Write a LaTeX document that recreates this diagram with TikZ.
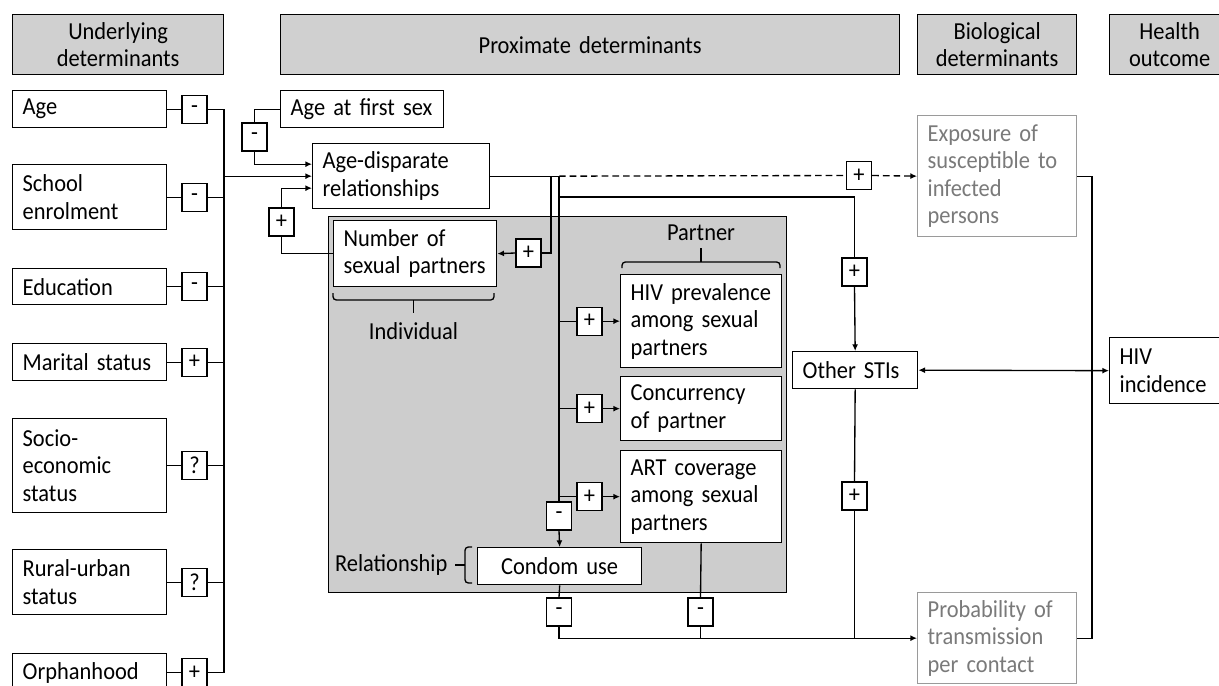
\documentclass[tikz,border=0pt]{standalone}
\usepackage{fontspec}
\setmainfont{Carlito}[FakeStretch=0.92]
\usetikzlibrary{arrows.meta}
\definecolor{hdr}{HTML}{D0D0D0}
\definecolor{reg}{HTML}{CDCDCD}
\definecolor{lgt}{HTML}{9A9A9A}
\definecolor{ltx}{HTML}{7A7A7A}
\newcommand\mkbox[7][]{%
  \pgfmathsetmacro\mbw{(#5-#3)*0.75}%
  \pgfmathsetmacro\mbh{(#6-#4)*0.75}%
  \pgfmathsetmacro\mtw{(#5-#3-20)*0.75}%
  \node[bx,minimum width=\mbw pt,minimum height=\mbh pt,text width=\mtw pt,anchor=north west,#1] (#2) at (#3,#4) {#7};%
}
\begin{document}
\begin{tikzpicture}[x=0.75pt,y=-0.75pt,
  font=\fontsize{18.3pt}{20.6pt}\selectfont, line width=1pt,
  bx/.style={draw, fill=white, inner sep=0pt, align=left},
  hd/.style={fill=hdr, align=center},
  gr/.style={draw=lgt, text=ltx},
  sg/.style={draw, fill=white, inner sep=0pt, minimum width=18.75pt, minimum height=21pt},
  arr/.style={-{Latex[length=5pt,width=4.5pt]}},
  darr/.style={{Latex[length=5pt,width=4.5pt]}-{Latex[length=5pt,width=4.5pt]}},
  dsh/.style={dash pattern=on 5pt off 3pt},
  lbl/.style={inner sep=0pt}]
\useasboundingbox (0,0) rectangle (1219,685);
\clip (0,0) rectangle (1219,685);
% headers
\mkbox[hd]{hU}{12}{14}{223}{74}{Underlying\\determinants}
\mkbox[hd]{hP}{280}{14}{899}{74}{Proximate determinants}
\mkbox[hd]{hB}{917}{14}{1076}{74}{Biological\\determinants}
\mkbox[hd]{hH}{1109}{14}{1229}{74}{Health\\outcome}
% grey region
\mkbox[fill=reg]{region}{328}{216}{786}{592}{}
% left column
\mkbox{age}{12}{90}{166}{127}{Age}
\mkbox{sch}{12}{164}{166}{229}{School\\enrolment}
\mkbox{edu}{12}{268}{166}{304}{Education}
\mkbox{mar}{12}{343}{166}{380}{Marital status}
\mkbox{soc}{12}{418}{166}{512}{Socio-\\economic\\status}
\mkbox{rur}{12}{549}{166}{614}{Rural-urban\\status}
\mkbox{orp}{12}{653}{166}{691}{Orphanhood}
% middle
\mkbox{afs}{280}{90}{443}{127}{Age at first sex}
\mkbox{ads}{312}{143}{489}{208}{Age-disparate\\relationships}
\mkbox{nsp}{333}{220}{496}{286}{Number of\\sexual partners}
\mkbox{hiv}{620}{274}{781}{367}{HIV prevalence\\among sexual\\partners}
\mkbox{con}{620}{376}{781}{440}{Concurrency\\of partner}
\mkbox{art}{620}{450}{781}{542}{ART coverage\\among sexual\\partners}
\mkbox[align=center]{cu}{477}{547}{641}{584}{Condom use}
\mkbox{sti}{792}{351}{917}{388}{Other STIs}
\mkbox[gr]{exp}{917}{115}{1076}{236}{Exposure of\\susceptible to\\infected\\persons}
\mkbox[gr]{prob}{917}{592}{1076}{683}{Probability of\\transmission\\per contact}
\mkbox{hinc}{1109}{337}{1240}{403}{HIV\\incidence}
% helper coordinates
\coordinate (sx) at (194.5,0);
\coordinate (bus) at (224,0);
\coordinate (j1) at (551,0);
\coordinate (j2) at (559,0);
\coordinate (px) at (589.5,0);
\coordinate (rb) at (1092,0);
\coordinate (j3) at (559,197);
% sign boxes
\node[sg] (sA) at (age.east -| sx) {-};
\node[sg] (sS) at (sch.east -| sx) {-};
\node[sg] (sE) at (edu.east -| sx) {-};
\node[sg] (sM) at (mar.east -| sx) {+};
\node[sg] (sSo) at (soc.east -| sx) {?};
\node[sg] (sR) at (rur.east -| sx) {?};
\node[sg] (sO) at (orp.east -| sx) {+};
\node[sg] (sAF) at (254.5,137) {-};
\node[sg] (sNP) at (281.5,222) {+};
\node[sg] (sNPR) at (528.5,253) {+};
\node[sg] (sEx) at (859,175.5) {+};
\node[sg] (sOS) at (854.5,272) {+};
\node[sg] (sH) at (hiv.west -| px) {+};
\node[sg] (sC) at (con.west -| px) {+};
\node[sg] (sRt) at (art.west -| px) {+};
\node[sg] (sCU) at (559,516) {-};
\node[sg] (sCB) at (559,612) {-};
\node[sg] (sAB) at (700.5,612) {-};
\node[sg] (sSB) at (854.5,496) {+};
% left connectors
\foreach \s/\b in {sA/age,sS/sch,sE/edu,sM/mar,sSo/soc,sR/rur,sO/orp}{
  \draw (\b.east) -- (\s.west);
  \draw (\s.east) -- (\s.east -| bus);
}
\draw (sA.east -| bus) -- (sO.east -| bus);
\draw[arr] (ads.west -| bus) -- (ads.west);
\draw (afs.west) -| (sAF.north);
\draw[arr] (sAF.south) |- ([yshift=9pt]ads.west);
\draw (nsp.west) -| (sNP.south);
\draw[arr] (sNP.north) |- ([yshift=-9pt]ads.west);
% outputs of age-disparate
\draw (ads.east) -- (ads.east -| j2);
\draw[dsh] (ads.east -| j2) -- (sEx.west);
\draw[dsh,arr] (sEx.east) -- (exp.west);
\draw (ads.east -| j1) |- (sNPR.east);
\draw[arr] (sNPR.west) -- (nsp.east);
\draw (ads.east -| j2) -- (sCU.north);
\draw[arr] (sCU.south) -- (cu.north);
\draw (j3) -| (sOS.north);
\draw[arr] (sOS.south) -- (sti.north);
\foreach \s/\b in {sH/hiv,sC/con,sRt/art}{
  \draw (\b.west -| j2) -- (\s.west);
  \draw[arr] (\s.east) -- (\b.west);
}
% bottom
\draw (cu.south) -- (sCB.north);
\draw[arr] (sCB.south) |- (prob.west);
\draw (art.south) -- (sAB.north);
\draw (sAB.south) -- (sAB.south |- prob.west);
\draw (sti.south) -- (sSB.north);
\draw (sSB.south) -- (sSB.south |- prob.west);
% right
\draw (exp.east) -| (prob.east -| rb) -- (prob.east);
\draw[darr] (sti.east) -- (hinc.west);
% braces and labels
\draw[rounded corners=2.5pt] (333,293) -- (333,300) -- (494,300) -- (494,293);
\draw (413.5,300) -- (413.5,313);
\node[lbl] (lInd) at (413.5,331) {Individual};
\draw[rounded corners=2.5pt] (622,268) -- (622,262) -- (780,262) -- (780,268);
\draw (701,262) -- (701,248);
\node[lbl] (lPar) at (701,233) {Partner};
\draw[rounded corners=2.5pt] (472,547) -- (465,547) -- (465,583) -- (472,583);
\draw (465,565) -- (455,565);
\node[lbl,anchor=east] (lRel) at (448,565) {Relationship};
\end{tikzpicture}
\end{document}
